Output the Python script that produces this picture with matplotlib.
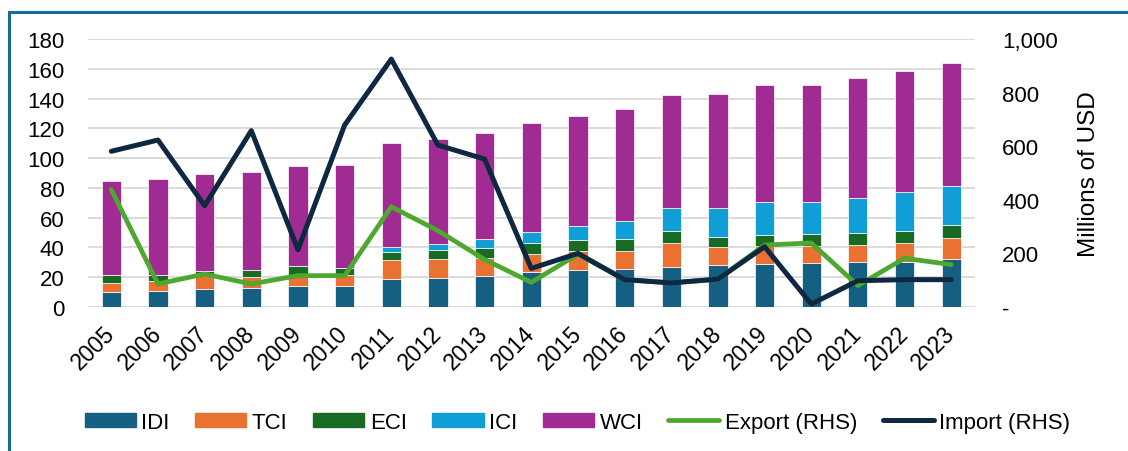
import numpy as np
import matplotlib
matplotlib.use("Agg")
from matplotlib import pyplot as plt
from matplotlib.lines import Line2D
from matplotlib.patches import Patch
from matplotlib.ticker import FuncFormatter

plt.rcParams["font.family"] = ["Liberation Sans", "DejaVu Sans"]
plt.rcParams["font.size"] = 16

# values
years = [str(y) for y in range(2005, 2024)]
idi = [10.3, 10.7, 11.9, 12.5, 13.9, 14.3, 19.0, 19.3, 20.6, 23.3,
       25.1, 25.7, 26.9, 28.4, 28.9, 29.5, 30.2, 30.5, 32.5]
tci = [5.6, 6.8, 10.5, 7.4, 7.1, 7.2, 12.6, 12.9, 12.5, 12.3,
       12.3, 12.1, 16.3, 11.9, 12.3, 11.7, 11.6, 12.5, 14.0]
eci = [5.8, 4.2, 1.6, 4.9, 6.3, 4.9, 5.5, 5.9, 6.3, 7.2,
       7.4, 7.7, 7.6, 6.9, 7.2, 7.6, 8.1, 8.2, 8.8]
ici = [0, 0, 0, 0, 0, 0, 3.2, 4.0, 6.3, 7.8,
       9.8, 12.3, 15.9, 19.1, 22.3, 21.5, 23.5, 26.2, 25.7]
wci = [63.0, 64.3, 65.1, 66.1, 67.4, 68.7, 69.6, 70.7, 71.4, 72.8,
       73.7, 75.0, 75.9, 77.0, 78.2, 79.0, 80.4, 81.1, 82.7]
export = [438, 86, 123, 86, 117, 117, 374, 285, 177, 92,
          197, 102, 90, 104, 231, 239, 80, 182, 158]
imports = [581, 623, 378, 658, 214, 679, 925, 604, 552, 144,
           200, 102, 90, 104, 225, 11, 98, 102, 102]

bar_series = [("IDI", idi, "#156082"), ("TCI", tci, "#E97132"),
              ("ECI", eci, "#196B24"), ("ICI", ici, "#0F9ED5"),
              ("WCI", wci, "#A02B93")]

fig = plt.figure(figsize=(11.28, 4.52), dpi=100)
ax1 = fig.add_axes([0.078, 0.3186, 0.786, 0.5929])
ax2 = ax1.twinx()

x = np.arange(len(years))
bottom = np.zeros(len(years))
for name, vals, col in bar_series:
    vals = np.array(vals)
    ax1.bar(x, vals, 0.41, bottom=bottom, color=col, edgecolor="white",
            linewidth=0.5, zorder=2)
    bottom += vals

ax2.plot(x, export, color="#4EA72E", lw=3.4, solid_capstyle="round", zorder=3)
ax2.plot(x, imports, color="#0E2841", lw=3.6, solid_capstyle="round", zorder=4)

ax1.set_xlim(-0.5, 18.5)
ax1.set_ylim(0, 180)
ax1.set_yticks(range(0, 181, 20))
ax2.set_ylim(0, 1000)
ax2.set_yticks(range(0, 1001, 200))
ax2.yaxis.set_major_formatter(
    FuncFormatter(lambda v, p: "-" if v == 0 else f"{int(v):,}"))

ax1.grid(axis="y", color="#d9d9d9", lw=1.3, zorder=0)
ax1.set_axisbelow(True)
for ax in (ax1, ax2):
    for s in ax.spines.values():
        s.set_visible(False)
ax1.tick_params(axis="y", length=0, pad=17)
ax2.tick_params(axis="y", length=0, pad=20)
ax1.set_xticks(x)
ax1.set_xticklabels(years, rotation=45, ha="right", va="center",
                    rotation_mode="anchor", fontsize=16.5)
ax1.tick_params(axis="x", length=0, pad=16)
ax2.set_ylabel("Millions of USD", fontsize=17.5, labelpad=14)

handles = [Patch(color=c, label=n) for n, _, c in bar_series]
handles += [Line2D([], [], color="#4EA72E", lw=3.4, solid_capstyle="round",
                   label="Export (RHS)"),
            Line2D([], [], color="#0E2841", lw=3.6, solid_capstyle="round",
                   label="Import (RHS)")]
fig.legend(handles=handles, loc="center", bbox_to_anchor=(0.512, 0.064),
           ncol=7, frameon=False, fontsize=16, handlelength=2.3,
           handleheight=0.62, handletextpad=0.25, columnspacing=1.15)

# frame lines at top and left of the picture
fig.add_artist(Line2D([9 / 1128, 9 / 1128], [0, 1 - 12.5 / 452],
                      color="#1d6a96", lw=2.2))
fig.add_artist(Line2D([9 / 1128, 1], [1 - 12.5 / 452, 1 - 12.5 / 452],
                      color="#1d6a96", lw=2.2))

fig.savefig("out.png", dpi=100)
